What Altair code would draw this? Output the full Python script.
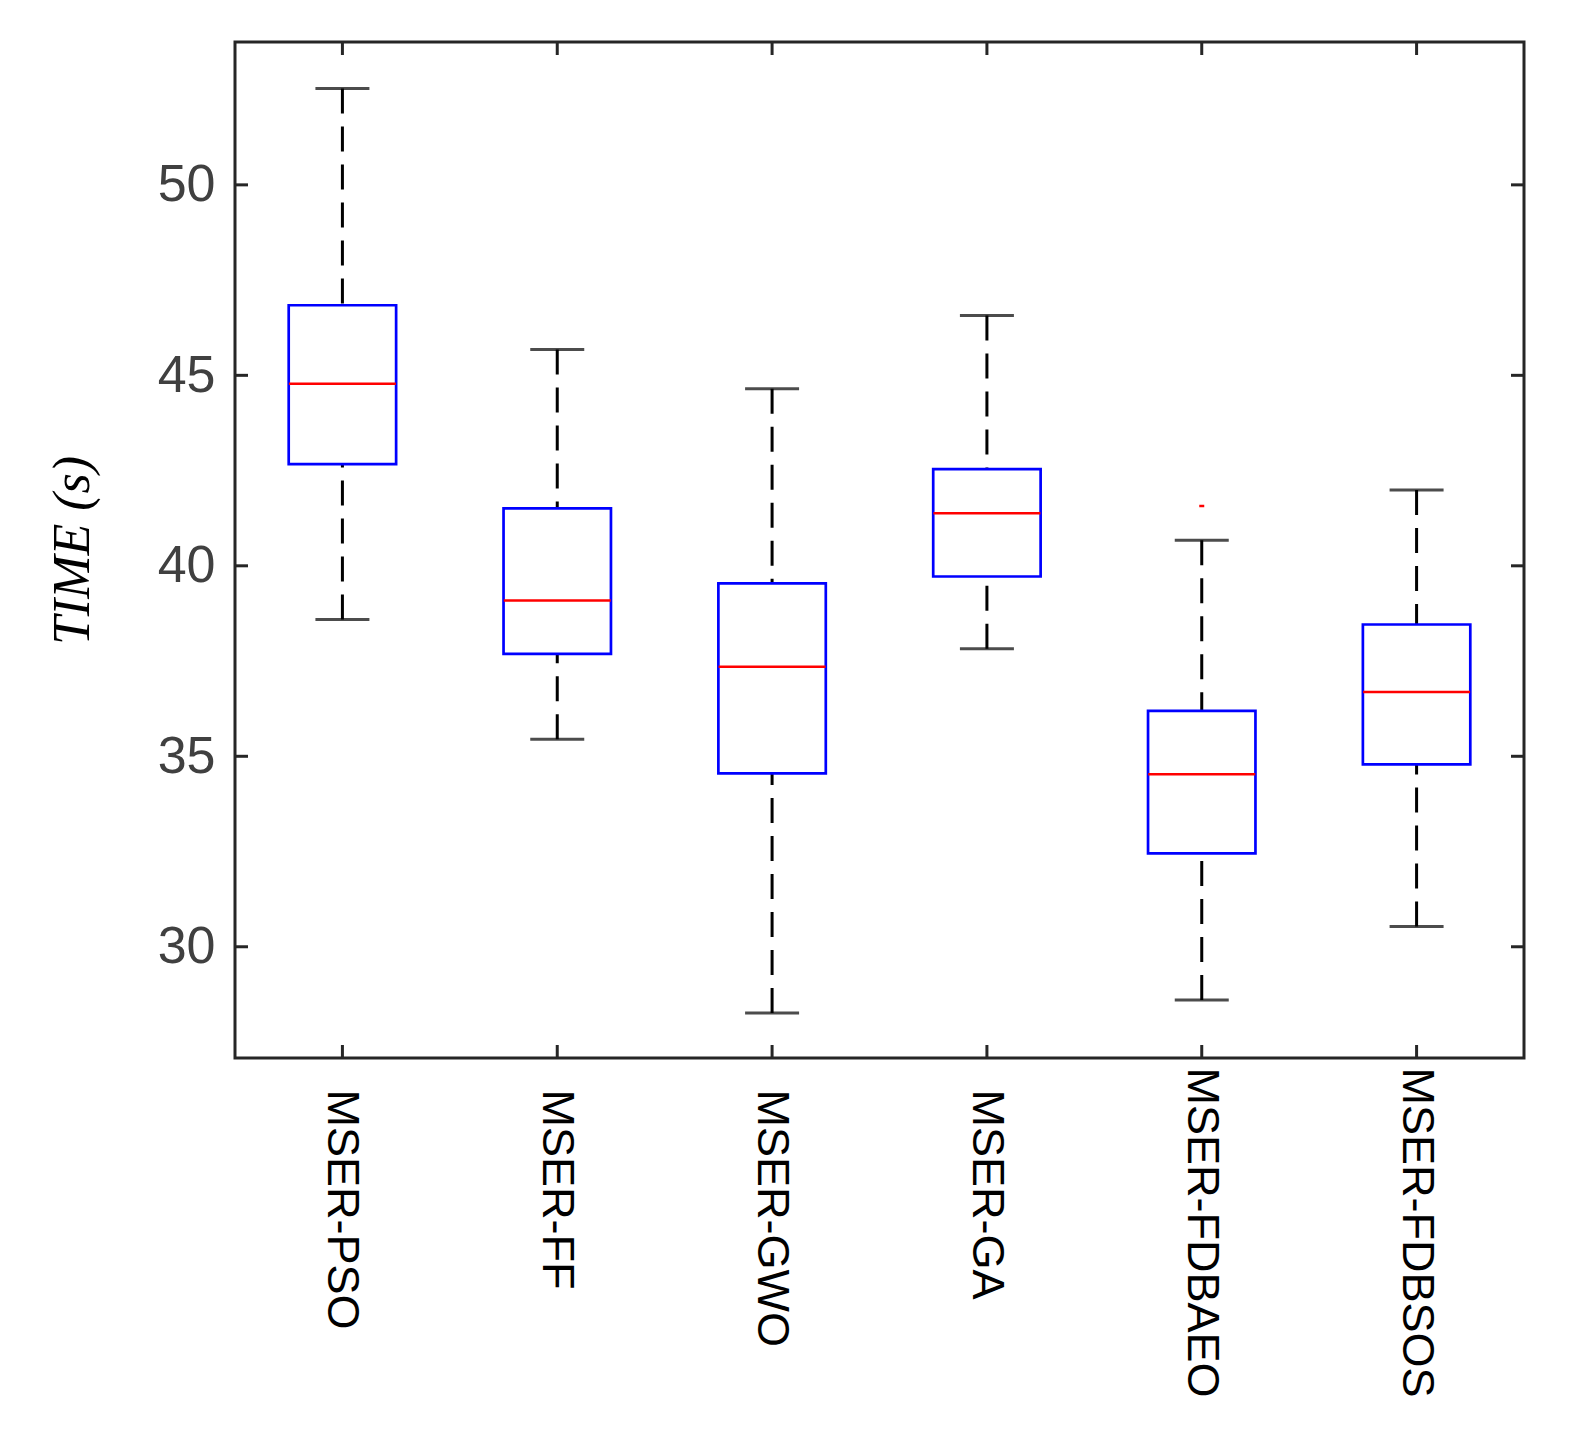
import altair as alt
import pandas as pd

algs = ["MSER-PSO", "MSER-FF", "MSER-GWO", "MSER-GA", "MSER-FDBAEO", "MSER-FDBSOS"]
whisk_hi = [52.53, 45.68, 44.65, 46.57, 40.67, 41.99]
q3 = [46.84, 41.51, 39.54, 42.54, 36.19, 38.46]
med = [44.78, 39.09, 37.35, 41.38, 34.53, 36.69]
q1 = [42.67, 37.69, 34.55, 39.72, 32.45, 34.79]
whisk_lo = [38.59, 35.45, 28.26, 37.82, 28.60, 30.53]
out_alg = ["MSER-FDBAEO"]
out_val = [41.57]
y_ticks = [30, 35, 40, 45, 50]

W, H = 1289, 1016
FRAME = "#262626"

df = pd.DataFrame({"alg": algs, "hi": whisk_hi, "q3": q3, "med": med, "q1": q1, "lo": whisk_lo})
df_out = pd.DataFrame({"alg": out_alg, "v": out_val})
df_yt = pd.DataFrame({"v": y_ticks})
df_xt = pd.DataFrame({"alg": algs})

xs = alt.Scale(domain=algs, paddingInner=0, paddingOuter=0)
ys = alt.Scale(domain=[27.08, 53.75], nice=False, zero=False)

x_axis = alt.Axis(title=None, labelAngle=90, labelAlign="left", labelBaseline="middle",
                  labelFontSize=45, labelFont="Liberation Sans", labelColor="black",
                  labelPadding={"condition": {"test": "indexof(datum.value, 'FDB') >= 0", "value": 9},
                                "value": 31},
                  labelLimit=0, labelOverlap=False,
                  domain=False, ticks=False, grid=False)
y_axis = alt.Axis(title="TIME (s)", titleFont="Liberation Serif", titleFontStyle="italic",
                  titleFontWeight="normal", titleFontSize=52, titleColor="black", titlePadding=58,
                  labelFontSize=52, labelFont="Liberation Sans", labelColor="#404040",
                  labelPadding=20, domain=False, ticks=False, grid=False, values=y_ticks)


def X():
    return alt.X("alg:N", scale=xs, axis=x_axis, sort=algs, title=None)


def Y(f):
    return alt.Y(f, scale=ys, axis=y_axis, title="TIME (s)")


base = alt.Chart(df)

upper = base.mark_rule(color="black", strokeWidth=3, strokeDash=[25, 13]).encode(
    x=X(), y=Y("hi:Q"), y2="q3:Q")
lower = base.mark_rule(color="black", strokeWidth=3, strokeDash=[25, 13]).encode(
    x=X(), y=Y("lo:Q"), y2="q1:Q")
cap_hi = base.mark_tick(color="black", size=54, thickness=3, orient="horizontal").encode(
    x=X(), y=Y("hi:Q"))
cap_lo = base.mark_tick(color="black", size=54, thickness=3, orient="horizontal").encode(
    x=X(), y=Y("lo:Q"))
box = base.mark_bar(width={"band": 0.5}, fill="white", fillOpacity=1, stroke="blue",
                    strokeWidth=2.7).encode(
    x=X(), y=Y("q1:Q"), y2="q3:Q")
median = base.mark_tick(color="red", size=107, thickness=2.5, orient="horizontal",
                        opacity=1).encode(
    x=X(), y=Y("med:Q"))
outl = alt.Chart(df_out).mark_tick(color="red", size=5, thickness=2.5, orient="horizontal",
                                   opacity=1).encode(
    x=X(), y=Y("v:Q"))

tl = 13
yt_left = alt.Chart(df_yt).mark_rule(color=FRAME, strokeWidth=3).encode(
    y=Y("v:Q"), x=alt.value(0), x2=alt.value(tl))
yt_right = alt.Chart(df_yt).mark_rule(color=FRAME, strokeWidth=3).encode(
    y=Y("v:Q"), x=alt.value(W - tl), x2=alt.value(W))
xt_bot = alt.Chart(df_xt).mark_rule(color=FRAME, strokeWidth=3).encode(
    x=X(), y=alt.value(H - tl), y2=alt.value(H))
xt_top = alt.Chart(df_xt).mark_rule(color=FRAME, strokeWidth=3).encode(
    x=X(), y=alt.value(0), y2=alt.value(tl))

chart = alt.layer(
    upper, lower, cap_hi, cap_lo, box, median, outl, yt_left, yt_right, xt_bot, xt_top
).properties(
    width=W, height=H,
    padding={"left": 227, "top": 34, "right": 30, "bottom": 360},
    autosize="none",
    background="white",
).configure_view(
    stroke=FRAME, strokeWidth=3
)

chart.save("out.html", embed_options={"renderer": "svg", "actions": False})
